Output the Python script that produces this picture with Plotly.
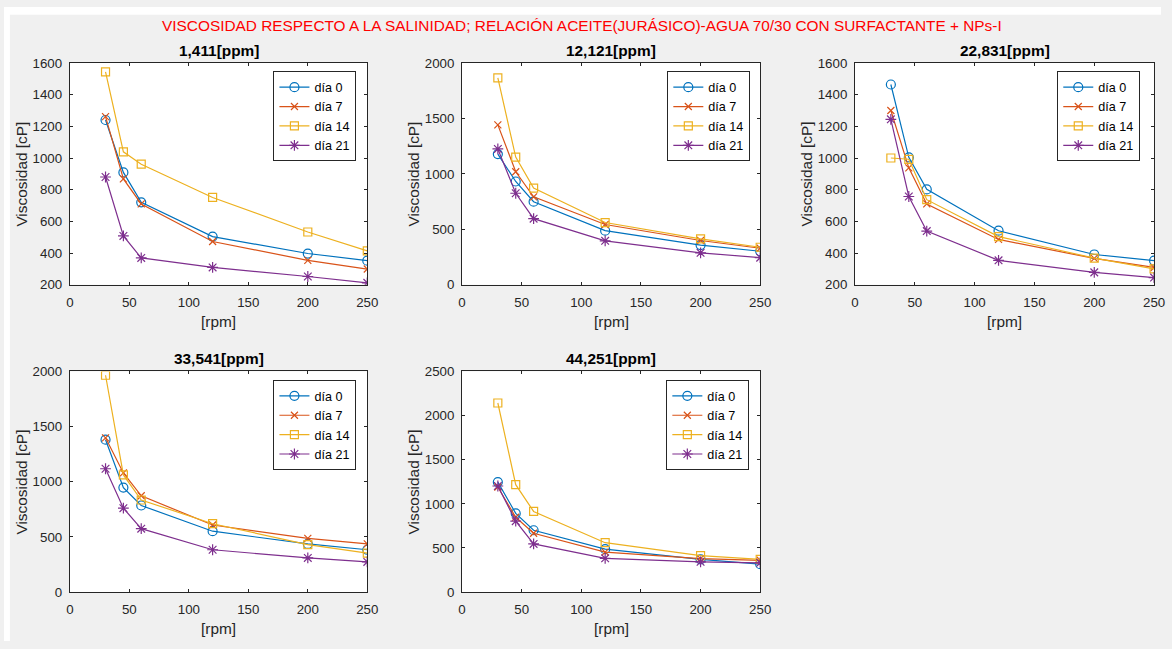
import plotly.graph_objects as go

rpm = [30, 45, 60, 120, 200, 250]
series_names = ["día 0", "día 7", "día 14", "día 21"]
panel_titles = ["1,411[ppm]", "12,121[ppm]", "22,831[ppm]", "33,541[ppm]", "44,251[ppm]"]

p1_d0 = [1240, 909, 720, 504, 397, 352]
p1_d7 = [1261, 868, 710, 473, 354, 299]
p1_d14 = [1544, 1039, 961, 751, 533, 414]
p1_d21 = [880, 508, 369, 309, 252, 212]

p2_d0 = [1178, 931, 749, 488, 358, 302]
p2_d7 = [1442, 1019, 793, 543, 399, 329]
p2_d14 = [1865, 1151, 872, 561, 414, 338]
p2_d21 = [1225, 825, 596, 396, 288, 244]

p3_d0 = [1464, 1004, 802, 541, 391, 352]
p3_d7 = [1300, 938, 710, 486, 366, 309]
p3_d14 = [1000, 992, 737, 504, 368, 300]
p3_d21 = [1244, 757, 539, 354, 278, 245]

p4_d0 = [1381, 947, 785, 552, 437, 384]
p4_d7 = [1398, 1080, 873, 608, 487, 437]
p4_d14 = [1965, 1062, 835, 620, 431, 354]
p4_d21 = [1118, 761, 575, 384, 310, 274]

p5_d0 = [1246, 892, 701, 487, 372, 317]
p5_d7 = [1191, 848, 667, 453, 380, 361]
p5_d14 = [2142, 1217, 914, 560, 413, 372]
p5_d21 = [1202, 804, 546, 383, 343, 332]

panels = [
    [p1_d0, p1_d7, p1_d14, p1_d21],
    [p2_d0, p2_d7, p2_d14, p2_d21],
    [p3_d0, p3_d7, p3_d14, p3_d21],
    [p4_d0, p4_d7, p4_d14, p4_d21],
    [p5_d0, p5_d7, p5_d14, p5_d21],
]
y_ranges = [[200, 1600], [0, 2000], [200, 1600], [0, 2000], [0, 2500]]
y_dticks = [200, 500, 200, 500, 500]

colors = ["#0072BD", "#D95319", "#EDB120", "#7E2F8E"]
symbols = ["circle-open", "x-thin-open", "square-open", "asterisk-open"]
msizes = [9, 7, 8, 9]

W, H = 1172, 649
# pixel boxes for each axes: (left, right, top, bottom)
boxes = [
    (66.7, 368, 57.3, 284.3),
    (464, 766, 57.3, 284.3),
    (862, 1165, 57.3, 284.3),
    (66.7, 368, 373, 599),
    (464, 766, 373, 599),
]
legend_pos = [(357, 66), (756, 66), (1151, 66), (357, 382), (755, 382)]
ytitle_x = [18, 415, 813, 18, 415]

FONT = "Liberation Sans, Arial, Helvetica, sans-serif"
AX = "#262626"

fig = go.Figure()
layout = dict(
    width=W, height=H,
    margin=dict(l=0, r=0, t=0, b=0),
    paper_bgcolor="#f0f0f0",
    plot_bgcolor="white",
    font=dict(family=FONT, size=13, color=AX),
    showlegend=True,
)
annotations = []

for i, (box, data) in enumerate(zip(boxes, panels)):
    n = i + 1
    xa = "x" if n == 1 else f"x{n}"
    ya = "y" if n == 1 else f"y{n}"
    lg = "legend" if n == 1 else f"legend{n}"
    for j in range(4):
        fig.add_trace(go.Scatter(
            x=rpm, y=data[j], name=series_names[j], mode="lines+markers",
            line=dict(color=colors[j], width=1.2),
            marker=dict(symbol=symbols[j], size=msizes[j], color=colors[j],
                        line=dict(width=1.2, color=colors[j])),
            xaxis=xa, yaxis=ya, legend=lg,
        ))
    l, r, t, b = box
    axcommon = dict(showline=True, linecolor=AX, linewidth=1, mirror="ticks",
                    ticks="inside", ticklen=3, tickcolor=AX, showgrid=False,
                    zeroline=False, tickfont=dict(family=FONT, size=13.3, color=AX))
    layout["xaxis" if n == 1 else f"xaxis{n}"] = dict(
        domain=[l / W, r / W], anchor=ya, range=[0, 250], dtick=50,
        ticklabelstandoff=5, **axcommon)
    layout["yaxis" if n == 1 else f"yaxis{n}"] = dict(
        domain=[1 - b / H, 1 - t / H], anchor=xa, range=y_ranges[i],
        dtick=y_dticks[i], ticklabelstandoff=4, **axcommon)
    lx, ly = legend_pos[i]
    layout[lg] = dict(x=lx / W, y=1 - ly / H, xanchor="right", yanchor="top",
                      bgcolor="white", bordercolor=AX, borderwidth=1,
                      font=dict(family=FONT, size=12.6, color="black"),
                      tracegroupgap=0)
    cx = (l + r) / 2 / W
    # panel title
    annotations.append(dict(text=f"<b>{panel_titles[i]}</b>", x=cx,
                            y=1 - (t - 13) / H, xref="paper", yref="paper",
                            xanchor="center", yanchor="middle",
                            showarrow=False, font=dict(family=FONT, size=15.4, color="black")))
    # x title
    annotations.append(dict(text="[rpm]", x=cx, y=1 - (b + 37.5) / H,
                            xref="paper", yref="paper", xanchor="center", yanchor="middle",
                            showarrow=False, font=dict(family=FONT, size=15.4, color=AX)))
    # y title
    annotations.append(dict(text="Viscosidad [cP]", x=ytitle_x[i] / W,
                            y=1 - (t + b) / 2 / H, xref="paper", yref="paper",
                            xanchor="center", yanchor="middle",
                            showarrow=False, textangle=-90,
                            font=dict(family=FONT, size=15.4, color=AX)))

annotations.append(dict(
    text="VISCOSIDAD RESPECTO A LA SALINIDAD; RELACIÓN ACEITE(JURÁSICO)-AGUA 70/30 CON SURFACTANTE + NPs-I",
    x=585 / W, y=1 - 19 / H, xref="paper", yref="paper", xanchor="center", yanchor="middle",
    showarrow=False, font=dict(family=FONT, size=15.4, color="#FF0000")))

layout["annotations"] = annotations
layout["shapes"] = [
    dict(type="rect", xref="paper", yref="paper", x0=0, x1=1, y0=1 - 8 / H, y1=1,
         fillcolor="white", line=dict(width=0), layer="below"),
    dict(type="rect", xref="paper", yref="paper", x0=0, x1=6 / W, y0=0, y1=1,
         fillcolor="white", line=dict(width=0), layer="below"),
]
fig.update_layout(**layout)
fig.write_html("out.html",
               config={"displayModeBar": False},
               post_script="document.body.style.margin='0';document.body.style.padding='0';document.body.style.overflow='hidden';")
